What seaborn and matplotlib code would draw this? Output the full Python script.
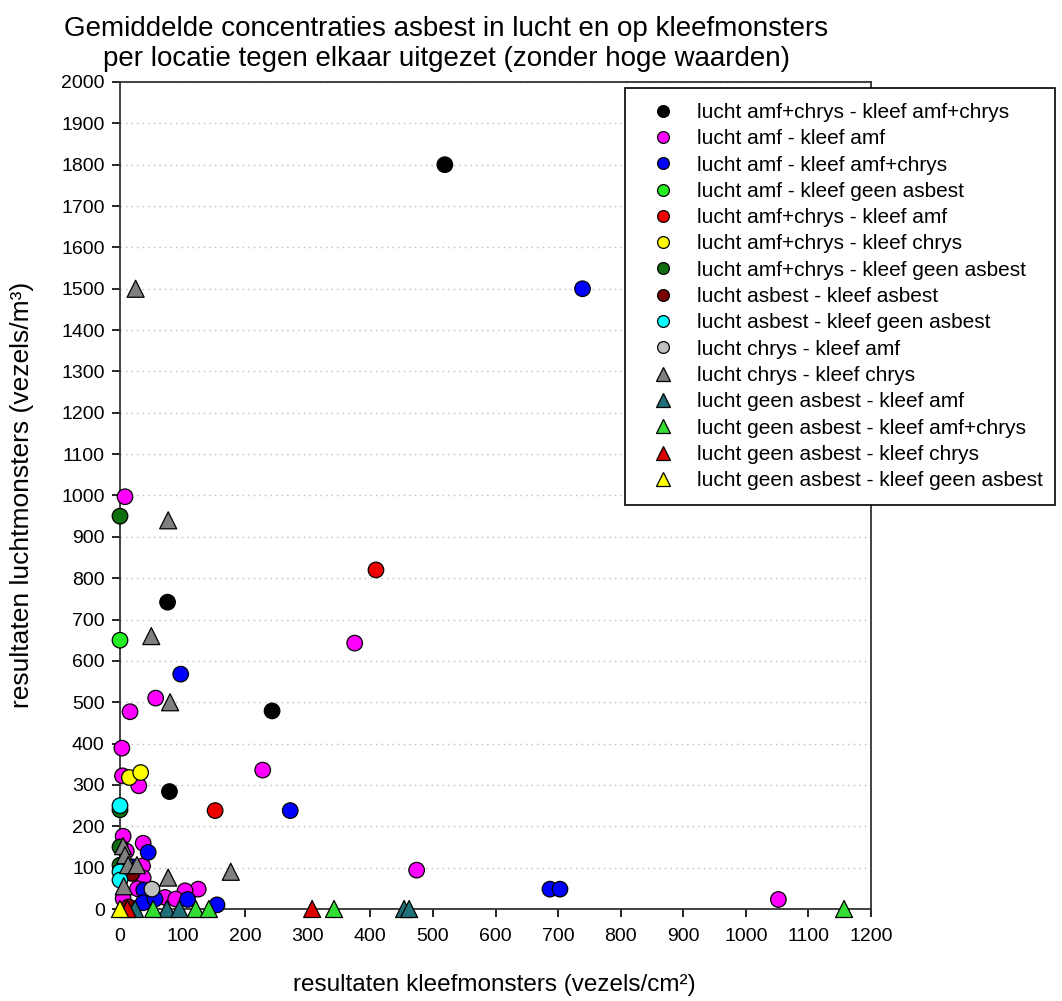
import matplotlib
matplotlib.use("Agg")
import matplotlib.pyplot as plt
from matplotlib.lines import Line2D
import pandas as pd
import seaborn as sns

# Mean concentrations per location: adhesive samples (x, fibres/cm²) vs air samples (y, fibres/m³)
labels = [
    "lucht amf+chrys - kleef amf+chrys",
    "lucht amf - kleef amf",
    "lucht amf - kleef amf+chrys",
    "lucht amf - kleef geen asbest",
    "lucht amf+chrys - kleef amf",
    "lucht amf+chrys - kleef chrys",
    "lucht amf+chrys - kleef geen asbest",
    "lucht asbest - kleef asbest",
    "lucht asbest - kleef geen asbest",
    "lucht chrys - kleef amf",
    "lucht chrys - kleef chrys",
    "lucht geen asbest - kleef amf",
    "lucht geen asbest - kleef amf+chrys",
    "lucht geen asbest - kleef chrys",
    "lucht geen asbest - kleef geen asbest",
]

amfchrys_amfchrys_x = [519, 76, 243, 79]
amfchrys_amfchrys_y = [1800, 742, 479, 284]

amf_amf_x = [1052, 375, 474, 228, 8, 57, 16, 3, 4, 30, 5, 37, 10, 36, 37, 28, 125, 104, 72, 89, 5]
amf_amf_y = [23, 643, 94, 336, 997, 510, 477, 389, 322, 298, 176, 159, 140, 104, 75, 49, 48, 44, 28, 24, 25]

amf_amfchrys_x = [739, 687, 703, 97, 272, 45, 20, 38, 108, 155, 37, 56]
amf_amfchrys_y = [1500, 48, 48, 568, 238, 137, 102, 46, 23, 10, 15, 24]

amf_geen_x = [0]
amf_geen_y = [650]

amfchrys_amf_x = [409, 152]
amfchrys_amf_y = [820, 238]

amfchrys_chrys_x = [15, 33]
amfchrys_chrys_y = [318, 330]

amfchrys_geen_x = [0, 0, 0, 0]
amfchrys_geen_y = [950, 240, 150, 106]

asbest_asbest_x = [19, 14]
asbest_asbest_y = [86, 5]

asbest_geen_x = [0, 0, 0]
asbest_geen_y = [250, 90, 70]

chrys_amf_x = [51]
chrys_amf_y = [48]

chrys_chrys_x = [25, 77, 50, 80, 5, 8, 13, 27, 77, 177, 6]
chrys_chrys_y = [1500, 940, 660, 500, 152, 130, 106, 106, 76, 90, 55]

geen_amf_x = [24, 75, 95, 454, 462]
geen_amf_y = [0, 0, 0, 0, 0]

geen_amfchrys_x = [53, 121, 142, 342, 1157]
geen_amfchrys_y = [0, 0, 0, 0, 0]

geen_chrys_x = [12, 307]
geen_chrys_y = [0, 0]

geen_geen_x = [0]
geen_geen_y = [0]

series_x = [amfchrys_amfchrys_x, amf_amf_x, amf_amfchrys_x, amf_geen_x, amfchrys_amf_x,
            amfchrys_chrys_x, amfchrys_geen_x, asbest_asbest_x, asbest_geen_x, chrys_amf_x,
            chrys_chrys_x, geen_amf_x, geen_amfchrys_x, geen_chrys_x, geen_geen_x]
series_y = [amfchrys_amfchrys_y, amf_amf_y, amf_amfchrys_y, amf_geen_y, amfchrys_amf_y,
            amfchrys_chrys_y, amfchrys_geen_y, asbest_asbest_y, asbest_geen_y, chrys_amf_y,
            chrys_chrys_y, geen_amf_y, geen_amfchrys_y, geen_chrys_y, geen_geen_y]

colors = ["#000000", "#ff00ff", "#0000ff", "#22ee22", "#ee0000", "#ffff00", "#116e11",
          "#7a0000", "#00ffff", "#c0c0c0", "#808080", "#1f7078", "#33dd33", "#dd0000", "#ffff00"]
shapes = ["o"] * 10 + ["^"] * 5

x_ticks = list(range(0, 1201, 100))
y_ticks = list(range(0, 2001, 100))

rows = []
for lab, shp, xs, ys in zip(labels, shapes, series_x, series_y):
    for xv, yv in zip(xs, ys):
        rows.append({"kleef": xv, "lucht": yv, "groep": lab, "vorm": shp})
df = pd.DataFrame(rows)

sns.set_theme(style="white")
plt.rcParams["font.family"] = ["Liberation Sans", "DejaVu Sans"]
for key in ("text.color", "axes.labelcolor", "xtick.color", "ytick.color"):
    plt.rcParams[key] = "black"

fig = plt.figure(figsize=(10.62, 10.01), dpi=100)
ax = fig.add_axes([120 / 1062, 92 / 1001, 751 / 1062, 827 / 1001])

palette = dict(zip(labels, colors))
markers = dict(zip(labels, shapes))
sns.scatterplot(data=df, x="kleef", y="lucht", hue="groep", style="groep",
                size="vorm", sizes={"o": 125, "^": 150}, size_order=["o", "^"],
                hue_order=labels, style_order=labels, palette=palette, markers=markers,
                edgecolor="black", linewidth=0.9, legend=False, ax=ax, zorder=3)
for coll in ax.collections:
    coll.set_clip_on(False)

ax.set_xlim(0, 1200)
ax.set_ylim(0, 2000)
ax.set_xticks(x_ticks)
ax.set_yticks(y_ticks)
ax.set_xticklabels([str(t) for t in x_ticks], fontsize=14)
ax.set_yticklabels([str(t) for t in y_ticks], fontsize=14)
ax.tick_params(axis="both", direction="out", length=6, width=1.2, color="black",
               bottom=True, left=True)
ax.tick_params(axis="x", pad=8)
ax.tick_params(axis="y", pad=5)
for sp in ax.spines.values():
    sp.set_color("#333333")
    sp.set_linewidth(1.3)

ax.yaxis.grid(True, linestyle=(0, (1, 3)), color="#bbbbbb", linewidth=1)
ax.xaxis.grid(False)
ax.set_axisbelow(True)

ax.set_xlabel("")
ax.set_ylabel("")
fig.text(0.465, 1 - 985 / 1001, "resultaten kleefmonsters (vezels/cm²)", ha="center",
         va="center", fontsize=17.5)
fig.text(0.021, 1 - 495 / 1001, "resultaten luchtmonsters (vezels/m³)", ha="center",
         va="center", rotation=90, fontsize=19)
fig.text(0.42, 1 - 44 / 1001,
         "Gemiddelde concentraties asbest in lucht en op kleefmonsters\n"
         "per locatie tegen elkaar uitgezet (zonder hoge waarden)",
         ha="center", va="center", fontsize=20, linespacing=1.15)

handles = [Line2D([], [], linestyle="none", marker=m, markersize=8.5 if m == "o" else 9.5,
                  markerfacecolor=c, markeredgecolor="black", markeredgewidth=0.9)
           for m, c in zip(shapes, colors)]
leg = fig.legend(handles, labels, loc="upper left",
                 bbox_to_anchor=(625 / 1062, 1 - 88 / 1001, 430 / 1062, 0.0),
                 mode="expand", fontsize=15, frameon=True, fancybox=False,
                 borderpad=0.72, labelspacing=0.35, handlelength=2.2,
                 handletextpad=0.55, borderaxespad=0)
leg.get_frame().set_edgecolor("black")
leg.get_frame().set_linewidth(1.2)
leg.get_frame().set_facecolor("white")
leg.get_frame().set_alpha(1)

fig.savefig("out.png", dpi=100)
